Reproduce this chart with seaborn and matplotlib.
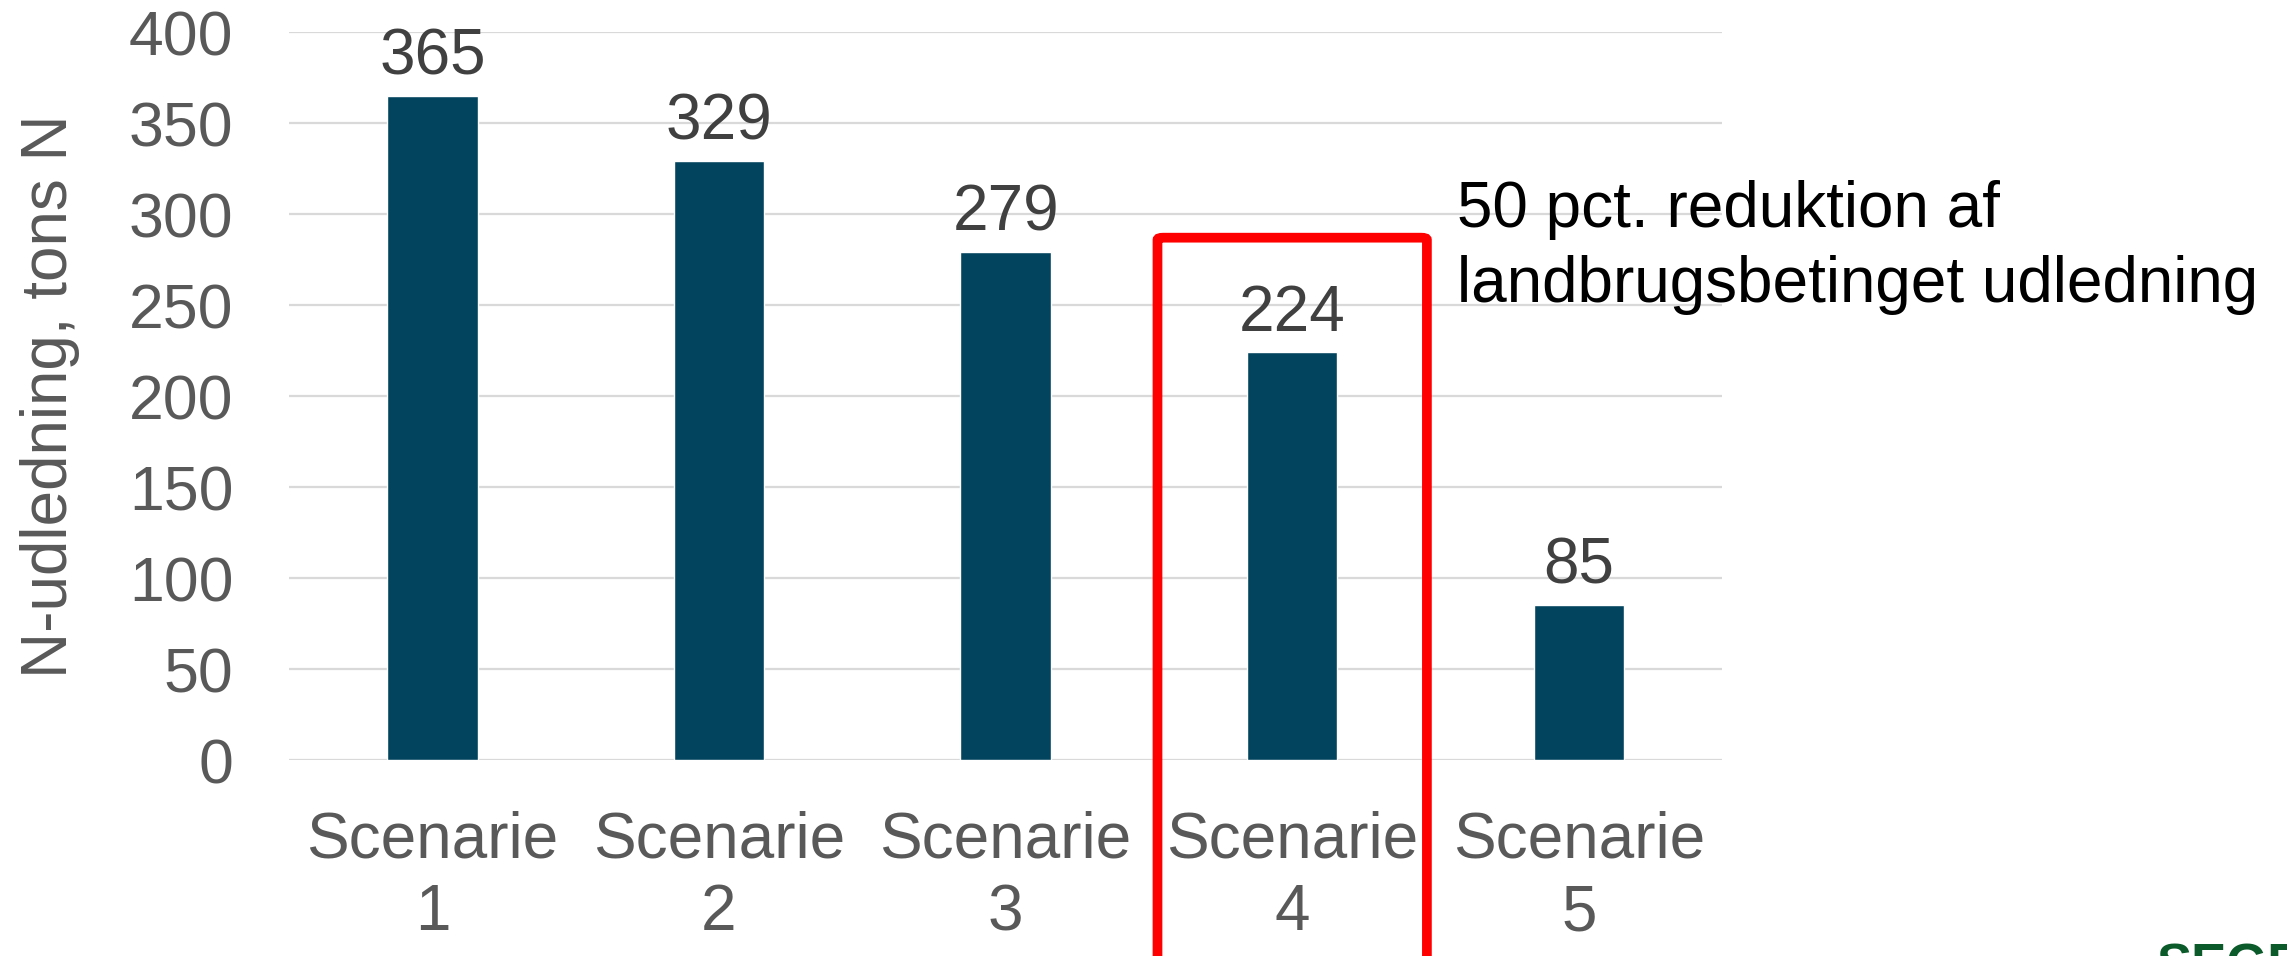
import matplotlib
matplotlib.use("Agg")
import matplotlib.pyplot as plt
import seaborn as sns
import pandas as pd
from matplotlib.patches import FancyBboxPatch

# data
scenarios = ["Scenarie\n1", "Scenarie\n2", "Scenarie\n3", "Scenarie\n4", "Scenarie\n5"]
n_udledning = [365, 329, 279, 224, 85]
y_ticks = [0, 50, 100, 150, 200, 250, 300, 350, 400]
highlight_idx = 3
note_text = "50 pct. reduktion af\nlandbrugsbetinget udledning"

BAR_COLOR = "#02445e"
GRID_COLOR = "#d9d9d9"
TICK_COLOR = "#595959"

sns.set_style("white")
plt.rcParams['font.family'] = ['Liberation Sans', 'DejaVu Sans']

df = pd.DataFrame({"scenarie": scenarios, "udledning": n_udledning})

fig = plt.figure(figsize=(22.87, 9.56), dpi=100)
ax = fig.add_axes([0.1264, 0.205, 0.6266, 0.7615])

sns.barplot(data=df, x="scenarie", y="udledning", color=BAR_COLOR,
            width=0.315, saturation=1, ax=ax)

ax.set_ylim(0, 400)
ax.set_xlim(-0.5, len(scenarios) - 0.5)
ax.set_yticks(y_ticks)
ax.yaxis.grid(True, color=GRID_COLOR, linewidth=1.6)
ax.set_axisbelow(True)
for s in ax.spines.values():
    s.set_visible(False)

ax.tick_params(axis="y", length=0, pad=40, labelsize=45, labelcolor=TICK_COLOR)
ax.tick_params(axis="x", length=0, pad=36, labelsize=46, labelcolor=TICK_COLOR)
for lbl in ax.get_xticklabels():
    lbl.set_linespacing(1.28)
ax.set_xlabel("")
ax.set_ylabel("N-udledning, tons N", fontsize=46, color=TICK_COLOR)
ax.yaxis.set_label_coords(-0.146, 0.5)

ax.bar_label(ax.containers[0], fontsize=46, color="#404040", padding=6)

# red highlight box around scenario 4
box = FancyBboxPatch((highlight_idx - 0.47, -118), 0.94, 405,
                     boxstyle="round,pad=0,rounding_size=0.02",
                     fill=False, edgecolor="#ff0000", linewidth=7,
                     clip_on=False, mutation_aspect=60)
ax.add_patch(box)

fig.text(0.637, 0.741, note_text, fontsize=46, color="black",
         ha="left", va="center", linespacing=1.32)

fig.text(0.943, 0.0146, "SEGES", fontsize=38, fontweight="bold",
         color="#0b5a2a", ha="left", va="top")

fig.savefig("out.png", dpi=100)
